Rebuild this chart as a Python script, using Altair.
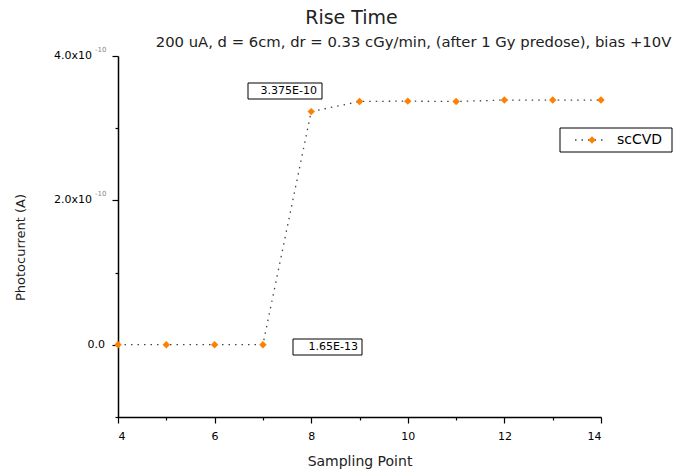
import altair as alt
import pandas as pd

sampling_point = [4, 5, 6, 7, 8, 9, 10, 11, 12, 13, 14]
photocurrent = [1.2e-13, 1.4e-13, 1.5e-13, 1.65e-13, 3.23e-10, 3.37e-10,
                3.375e-10, 3.37e-10, 3.39e-10, 3.39e-10, 3.39e-10]
series_name = "scCVD"

x_major = [4, 6, 8, 10, 12, 14]
x_minor = [5, 7, 9, 11, 13]
y_major = [0, 2e-10, 4e-10]
y_minor = [-1e-10, 1e-10, 3e-10]
y_major_text = ["0.0", "2.0x10", "4.0x10"]
y_major_exp = ["", "-10", "-10"]

title_text = "Rise Time"
subtitle_text = "200 uA, d = 6cm, dr = 0.33 cGy/min, (after 1 Gy predose), bias +10V"
annotations = ["3.375E-10", "1.65E-13"]

FONT = "DejaVu Sans"
ORANGE = "#FF8000"
DOT = [1.5, 5]

df = pd.DataFrame({"x": sampling_point, "y": photocurrent})

W, H = 483, 361
xscale = alt.Scale(domain=[4, 14], nice=False)
yscale = alt.Scale(domain=[-1e-10, 4e-10], nice=False, zero=False)

x_major_ax = alt.Axis(values=x_major, title="Sampling Point", grid=False, orient="bottom",
                      labelFont=FONT, labelFontSize=11, labelColor="black",
                      titleFont=FONT, titleFontSize=14, titleFontWeight="normal",
                      titleColor="#222", titlePadding=13,
                      domainColor="black", domainWidth=1.5,
                      tickColor="black", tickSize=6, tickWidth=1.2, labelPadding=7)
x_minor_ax = alt.Axis(values=x_minor, title=None, grid=False, labels=False, orient="bottom",
                      domain=False, tickColor="black", tickSize=3, tickWidth=1.2)
y_major_ax = alt.Axis(values=y_major, title="Photocurrent (A)", grid=False, orient="left",
                      labels=False,
                      titleFont=FONT, titleFontSize=13, titleFontWeight="normal",
                      titleColor="#222", titlePadding=84, titleY=191,
                      domainColor="black", domainWidth=1.5,
                      tickColor="black", tickSize=6, tickWidth=1.2)
y_minor_ax = alt.Axis(values=y_minor, title=None, grid=False, labels=False, orient="left",
                      domain=False, tickColor="black", tickSize=3, tickWidth=1.2)

base = alt.Chart(df)
line = base.mark_line(color="#444", strokeDash=DOT, strokeWidth=1.3).encode(
    x=alt.X("x:Q", scale=xscale, axis=x_major_ax),
    y=alt.Y("y:Q", scale=yscale, axis=y_major_ax))
pts = base.mark_point(shape="diamond", filled=True, size=55, color=ORANGE, opacity=1).encode(
    x=alt.X("x:Q", scale=xscale, axis=x_minor_ax),
    y=alt.Y("y:Q", scale=yscale, axis=y_minor_ax))

ylab_df = pd.DataFrame({"y": y_major, "t": y_major_text, "e": y_major_exp})
ylab_main = alt.Chart(ylab_df).transform_filter("datum.e != ''").mark_text(
    font=FONT, fontSize=11, align="right", baseline="middle", color="black"
).encode(y=alt.Y("y:Q", scale=yscale, axis=None), text="t:N", x=alt.value(-26))
ylab_zero = alt.Chart(ylab_df).transform_filter("datum.e == ''").mark_text(
    font=FONT, fontSize=11, align="right", baseline="middle", color="black"
).encode(y=alt.Y("y:Q", scale=yscale, axis=None), text="t:N", x=alt.value(-13))
ylab_exp = alt.Chart(ylab_df).transform_filter("datum.e != ''").mark_text(
    font=FONT, fontSize=7, align="left", baseline="middle", color="#888", dy=-6
).encode(y=alt.Y("y:Q", scale=yscale, axis=None), text="e:N", x=alt.value(-23))


def label(text, x, y, size, align="center", color="black"):
    return alt.Chart(pd.DataFrame({"t": [text]})).mark_text(
        font=FONT, fontSize=size, align=align, baseline="middle", color=color
    ).encode(text="t:N", x=alt.value(x), y=alt.value(y))


def box(x1, x2, y1, y2):
    return alt.Chart(pd.DataFrame({"a": [0]})).mark_rect(
        fill="white", stroke="black", strokeWidth=1
    ).encode(x=alt.value(x1), x2=alt.value(x2), y=alt.value(y1), y2=alt.value(y2))


title = label(title_text, 233.5, -38.5, 19, color="#222")
subtitle = label(subtitle_text, 295.5, -13, 14.8, color="#222")

ann1_box = box(130, 204, 27, 43)
ann1 = label(annotations[0], 199, 35, 11, align="right")
ann2_box = box(175, 244, 283, 299)
ann2 = label(annotations[1], 240, 291, 11, align="right")

leg_box = box(442, 554, 72, 96)
leg_line = alt.Chart(pd.DataFrame({"a": [0]})).mark_rule(
    color="#444", strokeDash=DOT, strokeWidth=1.3
).encode(x=alt.value(457), x2=alt.value(489), y=alt.value(84))
leg_pt = alt.Chart(pd.DataFrame({"a": [0]})).mark_point(
    shape="diamond", filled=True, size=55, color=ORANGE, opacity=1
).encode(x=alt.value(474), y=alt.value(84))
leg_txt = label(series_name, 499, 84, 14, align="left")

chart = alt.layer(line, pts, ylab_main, ylab_zero, ylab_exp, title, subtitle,
                  ann1_box, ann1, ann2_box, ann2,
                  leg_box, leg_line, leg_pt, leg_txt).resolve_axis(
    x="independent", y="independent"
).properties(
    width=W, height=H,
    autosize=alt.AutoSizeParams(type="none"),
    padding={"left": 118, "top": 56, "right": 74, "bottom": 56},
    background="white",
).configure_view(stroke=None)

chart.save("out.html", embed_options={"renderer": "svg", "actions": False})
